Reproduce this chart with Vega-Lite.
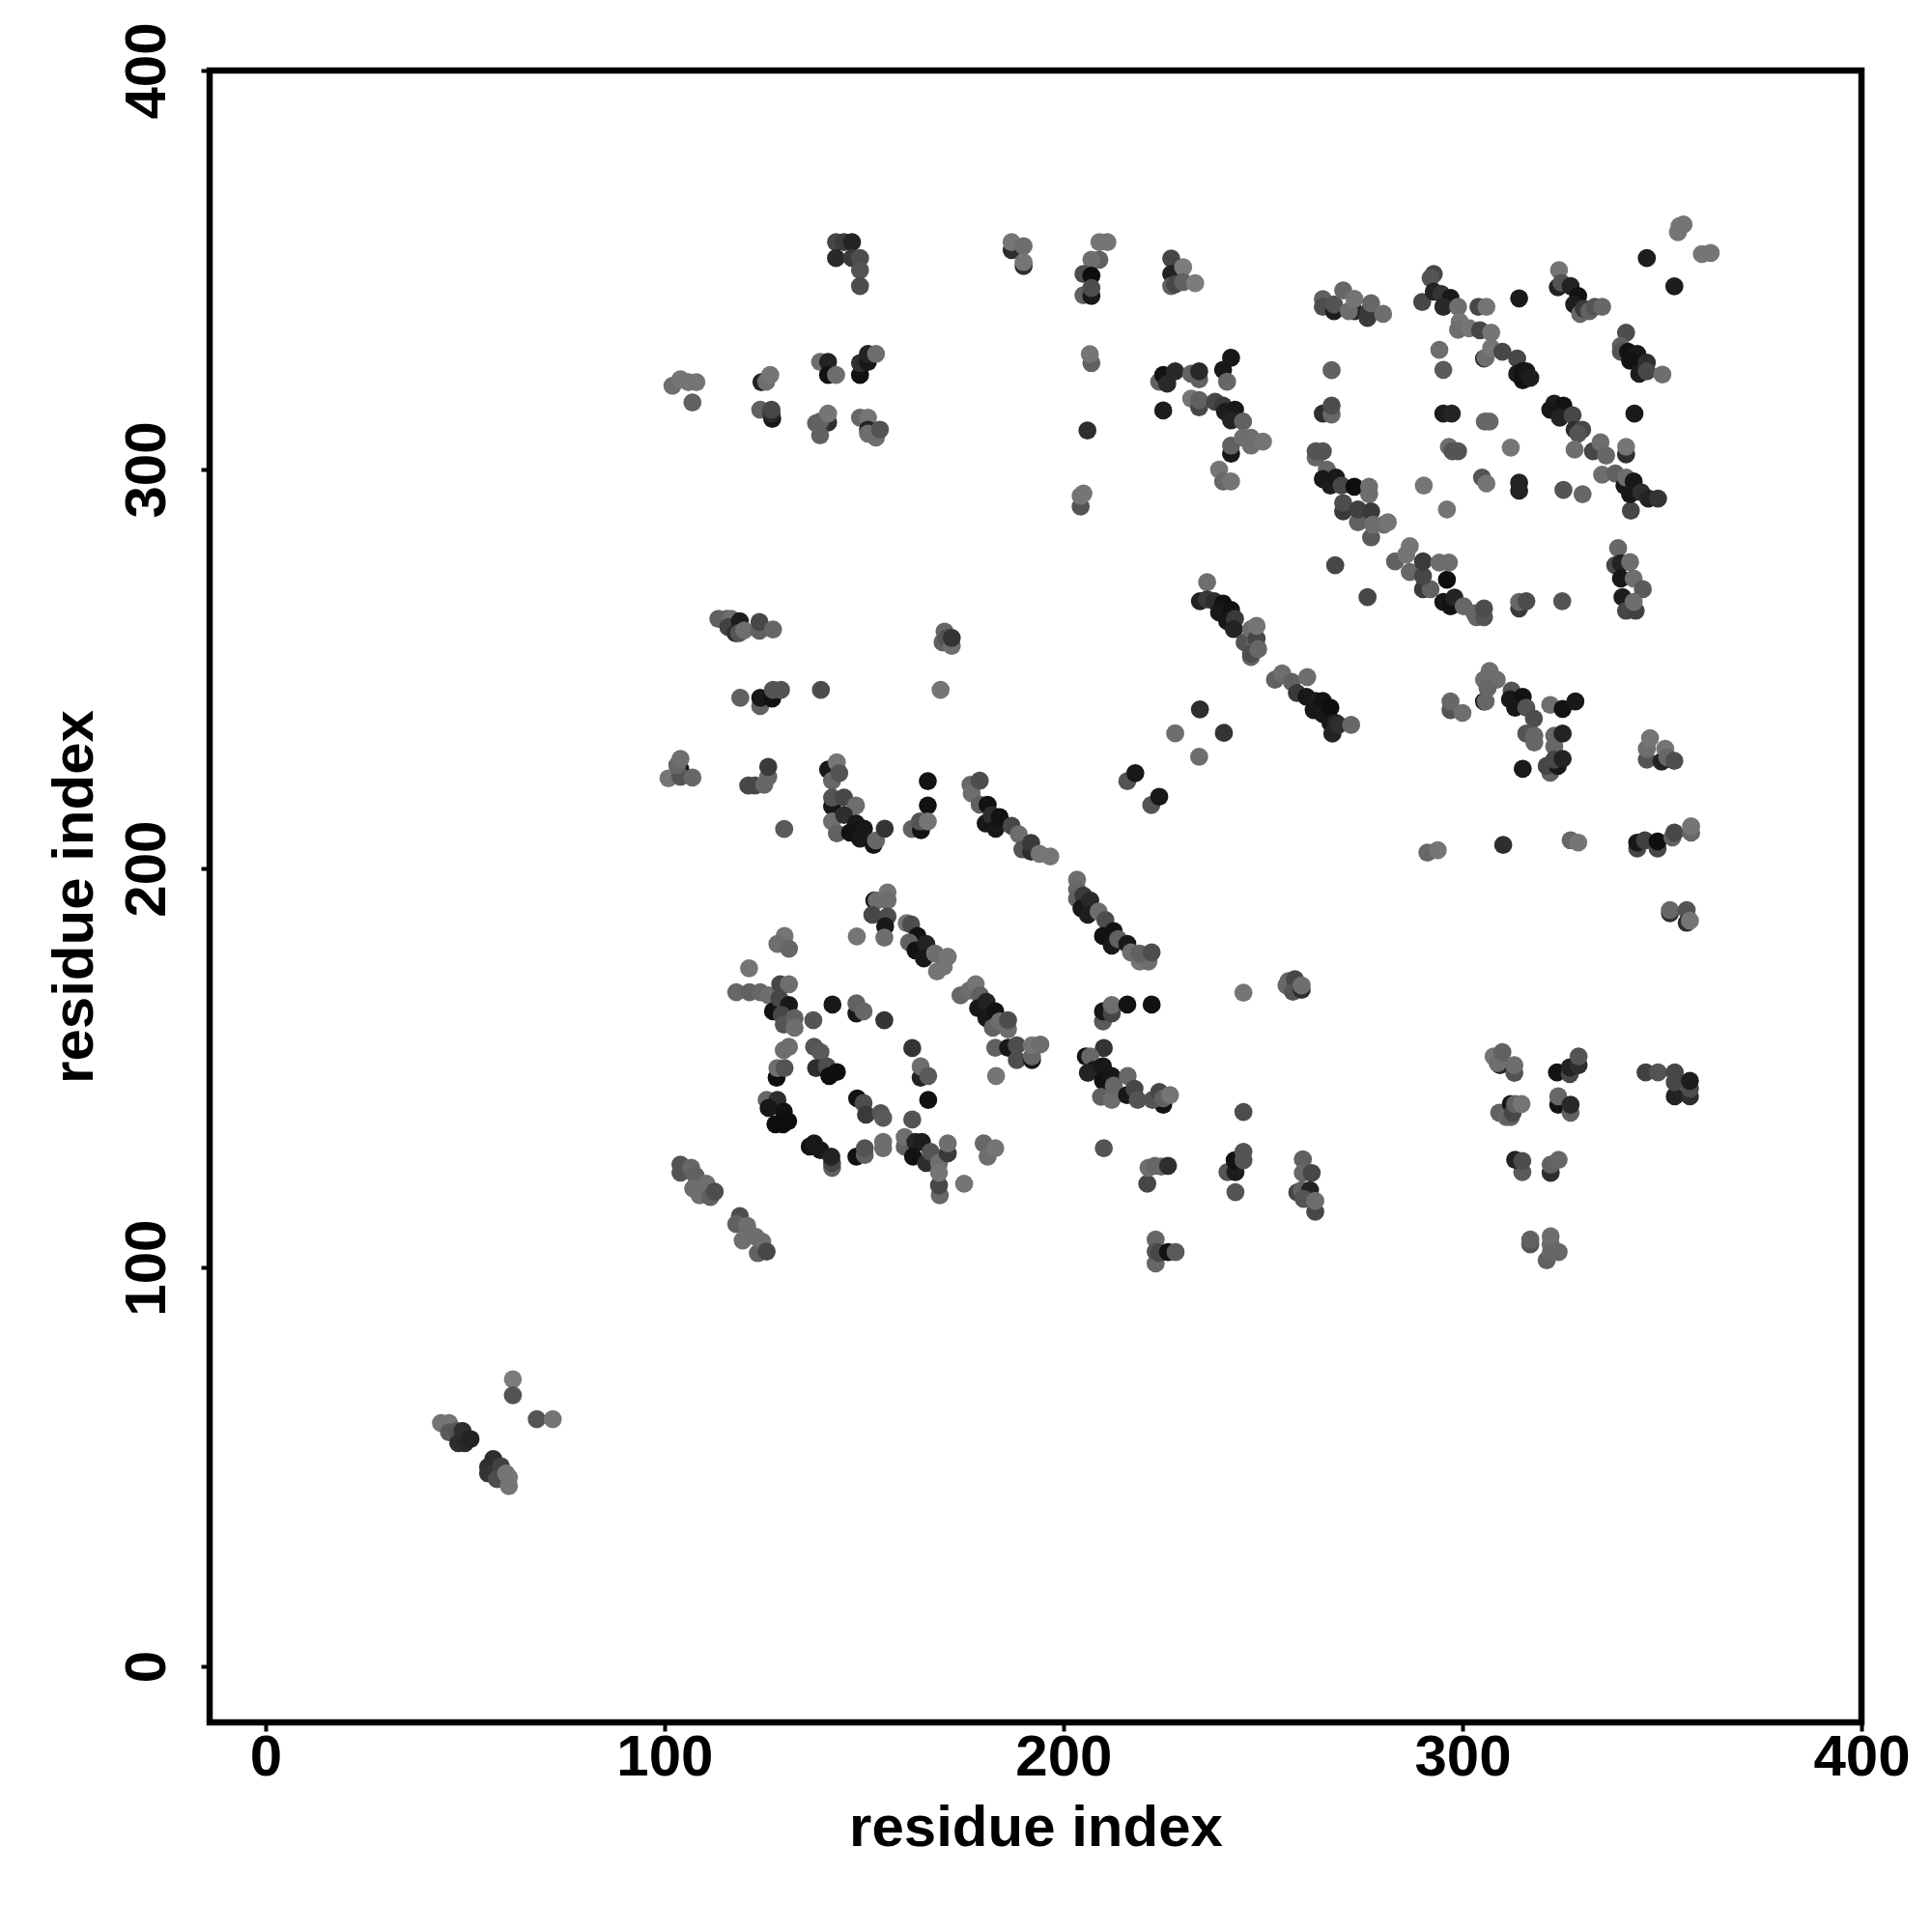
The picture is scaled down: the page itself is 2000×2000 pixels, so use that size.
{"$schema":"https://vega.github.io/schema/vega-lite/v6.json","autosize":{"type":"none"},"width":1710,"height":1710,"padding":{"left":217,"top":73,"right":73,"bottom":217},"background":"white","config":{"view":{"stroke":"black","strokeWidth":6.5},"font":"Liberation Sans","axis":{"grid":false,"domain":false,"ticks":true,"tickSize":9,"tickWidth":4,"tickColor":"black","labelFont":"Liberation Sans","labelFontWeight":"bold","labelFontSize":60,"labelColor":"black","titleFont":"Liberation Sans","titleFontWeight":"bold","titleFontSize":60,"titleColor":"black","labelOverlap":false,"labelBound":false,"labelFlush":false}},"data":{"values":[
{"i":143,"j":357,"v":0.5},{"i":145,"j":357,"v":0.4},{"i":147,"j":357,"v":0.2},{"i":143,"j":353,"v":0.25},{"i":147,"j":353,"v":0.4},{"i":149,"j":353,"v":0.55},{"i":149,"j":350,"v":0.6},{"i":149,"j":346,"v":0.55},
{"i":187,"j":355,"v":0.3},{"i":187,"j":357,"v":0.85},{"i":190,"j":351,"v":0.3},{"i":190,"j":356,"v":0.8},{"i":190,"j":352,"v":0.85},
{"i":209,"j":357,"v":0.85},{"i":211,"j":357,"v":0.85},{"i":209,"j":352.6,"v":0.7},{"i":207,"j":352.6,"v":0.8},{"i":205,"j":349,"v":0.55},{"i":207,"j":348.6,"v":0.02},{"i":205,"j":343.7,"v":0.7},{"i":207,"j":343.5,"v":0.1},{"i":207,"j":345.5,"v":0.55},
{"i":227,"j":352.9,"v":0.5},{"i":227,"j":349,"v":0.2},{"i":227,"j":346,"v":0.7},{"i":228,"j":346.4,"v":0.5},{"i":230,"j":350.7,"v":0.9},{"i":230,"j":347,"v":0.7},{"i":233,"j":346.7,"v":0.9},
{"i":102,"j":321,"v":0.8},{"i":104,"j":322.6,"v":0.85},{"i":106,"j":321.9,"v":0.85},{"i":108,"j":321.9,"v":0.85},{"i":107,"j":316.8,"v":0.7},
{"i":124.3,"j":321.9,"v":0.2},{"i":125.5,"j":322,"v":0.8},{"i":126.5,"j":323.7,"v":0.85},{"i":124,"j":315,"v":0.7},{"i":127,"j":312.7,"v":0.1},{"i":126.8,"j":314,"v":0.25},{"i":126.8,"j":315,"v":0.5},
{"i":139,"j":327,"v":0.8},{"i":141,"j":327,"v":0.2},{"i":141,"j":323.7,"v":0.05},{"i":143,"j":323.7,"v":0.8},{"i":149,"j":323.7,"v":0.05},{"i":149,"j":326.7,"v":0.3},{"i":151,"j":327,"v":0.1},{"i":151,"j":329,"v":0.2},{"i":153,"j":329,"v":0.8},
{"i":141,"j":311.8,"v":0.3},{"i":139,"j":308.6,"v":0.7},{"i":138,"j":311.6,"v":0.7},{"i":139,"j":312,"v":0.7},{"i":141,"j":314,"v":0.85},{"i":149,"j":313,"v":0.75},{"i":151,"j":313,"v":0.85},{"i":151,"j":310,"v":0.2},{"i":153,"j":308,"v":0.8},{"i":151,"j":309,"v":0.8},{"i":154,"j":310,"v":0.6},
{"i":207,"j":326.7,"v":0.7},{"i":206.6,"j":328.9,"v":0.85},{"i":206,"j":309.8,"v":0.3},{"i":204.3,"j":290.7,"v":0.6},{"i":204.3,"j":293.4,"v":0.85},{"i":205,"j":294,"v":0.85},
{"i":224,"j":322,"v":0.7},{"i":225,"j":323.7,"v":0.05},{"i":226,"j":321.5,"v":0.25},{"i":228,"j":324.6,"v":0.25},{"i":225,"j":314.8,"v":0.15},{"i":232,"j":324,"v":0.7},{"i":234,"j":322.6,"v":0.7},{"i":234,"j":324.6,"v":0.25},{"i":240,"j":325,"v":0.1},{"i":242,"j":328,"v":0.1},{"i":241,"j":322,"v":0.75},
{"i":232,"j":317.8,"v":0.85},{"i":234,"j":315.6,"v":0.5},{"i":234,"j":317.4,"v":0.7},{"i":238,"j":317,"v":0.5},{"i":240,"j":316,"v":0.4},{"i":240.5,"j":314.5,"v":0.15},{"i":243,"j":315,"v":0.1},{"i":242,"j":312.3,"v":0.2},{"i":245,"j":312,"v":0.7},{"i":242,"j":304,"v":0.1},{"i":242,"j":306,"v":0.7},{"i":245,"j":308,"v":0.8},{"i":247,"j":308,"v":0.8},{"i":247,"j":306,"v":0.8},{"i":250,"j":307,"v":0.85},{"i":239,"j":300,"v":0.85},{"i":240,"j":297,"v":0.75},{"i":242,"j":297,"v":0.85},
{"i":265,"j":342.7,"v":0.7},{"i":265,"j":340.8,"v":0.55},{"i":267.8,"j":339.7,"v":0.15},{"i":267.8,"j":341.4,"v":0.6},{"i":270.1,"j":344.9,"v":0.75},{"i":272.9,"j":339.7,"v":0.25},{"i":271.5,"j":339.7,"v":0.8},{"i":272.9,"j":342.8,"v":0.85},{"i":276.2,"j":338,"v":0.4},{"i":276.6,"j":339.7,"v":0.4},{"i":277.1,"j":341.7,"v":0.75},{"i":280.1,"j":339,"v":0.8},
{"i":267.2,"j":324.9,"v":0.7},{"i":265,"j":314,"v":0.3},{"i":267.2,"j":313.8,"v":0.75},{"i":267.2,"j":316,"v":0.55},
{"i":292.8,"j":349,"v":0.5},{"i":292,"j":348,"v":0.6},{"i":289.9,"j":342,"v":0.5},{"i":292.8,"j":344.6,"v":0.2},{"i":294.7,"j":344,"v":0.35},{"i":297,"j":343,"v":0.1},{"i":295.2,"j":340.8,"v":0.25},{"i":298.9,"j":340.8,"v":0.8},{"i":299.3,"j":337,"v":0.85},{"i":298.9,"j":335,"v":0.8},{"i":301.7,"j":335.4,"v":0.85},{"i":304.4,"j":334.9,"v":0.5},{"i":307.2,"j":334.3,"v":0.85},{"i":304,"j":340.8,"v":0.5},{"i":306,"j":340.8,"v":0.85},{"i":314.2,"j":342.9,"v":0.12},
{"i":305.4,"j":327.8,"v":0.3},{"i":305.8,"j":328,"v":0.8},{"i":307.2,"j":330.5,"v":0.85},{"i":310,"j":329.5,"v":0.5},{"i":313.7,"j":327.8,"v":0.5},{"i":313.7,"j":324,"v":0.15},{"i":315.1,"j":322.4,"v":0.05},{"i":315.1,"j":324.6,"v":0.05},{"i":316,"j":324.6,"v":0.1},{"i":317,"j":323,"v":0.15},{"i":294.2,"j":330,"v":0.8},{"i":295.2,"j":325,"v":0.65},
{"i":324.2,"j":350,"v":0.85},{"i":323.9,"j":345.7,"v":0.2},{"i":324.8,"j":346.8,"v":0.6},{"i":327.1,"j":346,"v":0.2},{"i":329,"j":343.5,"v":0.05},{"i":328,"j":341.4,"v":0.15},{"i":329.5,"j":339,"v":0.75},{"i":330.4,"j":340.3,"v":0.4},{"i":331.8,"j":339.7,"v":0.7},{"i":333.2,"j":340.8,"v":0.6},{"i":335,"j":340.8,"v":0.75},
{"i":346.2,"j":353,"v":0.15},{"i":353.1,"j":345.9,"v":0.15},{"i":354,"j":359.5,"v":0.85},{"i":354.4,"j":361,"v":0.85},{"i":355.4,"j":361.4,"v":0.85},{"i":360,"j":354,"v":0.85},{"i":362.2,"j":354.3,"v":0.85},
{"i":341,"j":334.3,"v":0.55},{"i":339.7,"j":331,"v":0.7},{"i":339.7,"j":329.5,"v":0.6},{"i":341.5,"j":329.5,"v":0.05},{"i":343.8,"j":329,"v":0.1},{"i":342,"j":327.3,"v":0.05},{"i":344.3,"j":324,"v":0.15},{"i":346.2,"j":326.8,"v":0.3},{"i":346.2,"j":324.6,"v":0.5},{"i":350.1,"j":323.8,"v":0.8},
{"i":323,"j":316.5,"v":0.15},{"i":325.3,"j":316,"v":0.05},{"i":322,"j":315,"v":0.1},{"i":324.4,"j":313,"v":0.2},{"i":327.6,"j":313.6,"v":0.5},{"i":328.1,"j":310,"v":0.3},{"i":330,"j":310,"v":0.5},{"i":329,"j":309,"v":0.6},{"i":328.1,"j":305,"v":0.8},{"i":332.7,"j":304.6,"v":0.5},{"i":334.6,"j":306.8,"v":0.8},{"i":336,"j":303.5,"v":0.75},{"i":335,"j":298.7,"v":0.8},{"i":338.3,"j":299,"v":0.7},{"i":340.6,"j":296,"v":0.1},{"i":341,"j":298,"v":0.8},{"i":342.9,"j":297,"v":0.1},{"i":342.2,"j":289.7,"v":0.5},{"i":342,"j":293.8,"v":0.1},{"i":344.8,"j":294.3,"v":0.3},{"i":346.6,"j":292.7,"v":0.2},{"i":349,"j":292.7,"v":0.35},
{"i":343.1,"j":314,"v":0.12},{"i":341,"j":303.8,"v":0.3},{"i":341,"j":305.7,"v":0.85},
{"i":339,"j":280.3,"v":0.75},{"i":338.3,"j":276,"v":0.5},{"i":339.7,"j":276.5,"v":0.2},{"i":342,"j":276.8,"v":0.8},{"i":339.7,"j":272.7,"v":0.1},{"i":342.9,"j":272.7,"v":0.8},{"i":345.2,"j":270,"v":0.65},{"i":340.1,"j":268,"v":0.15},{"i":341,"j":264.6,"v":0.5},{"i":343.4,"j":264.6,"v":0.45},{"i":342.9,"j":266.8,"v":0.8},
{"i":295.2,"j":314,"v":0.15},{"i":297.3,"j":314,"v":0.2},{"i":305.6,"j":312,"v":0.75},{"i":306.8,"j":312,"v":0.75},{"i":296.6,"j":305.7,"v":0.8},{"i":297.5,"j":304.6,"v":0.6},{"i":298.9,"j":304.6,"v":0.6},{"i":312.1,"j":305.5,"v":0.85},{"i":290.3,"j":296,"v":0.85},{"i":296.1,"j":290,"v":0.85},{"i":304.9,"j":298,"v":0.6},{"i":306,"j":296.5,"v":0.85},{"i":314.2,"j":296.7,"v":0.2},{"i":314.2,"j":294.7,"v":0.2},{"i":325.3,"j":294.9,"v":0.6},{"i":330.1,"j":293.8,"v":0.75},
{"i":263.2,"j":303,"v":0.75},{"i":263.2,"j":304.6,"v":0.6},{"i":265,"j":304.6,"v":0.6},{"i":266,"j":300,"v":0.75},{"i":265,"j":297.6,"v":0.1},{"i":266.9,"j":296,"v":0.15},{"i":268.3,"j":298,"v":0.1},{"i":269.7,"j":296,"v":0.5},{"i":272.9,"j":295.7,"v":0.02},{"i":276.6,"j":293.8,"v":0.8},{"i":276.6,"j":295.7,"v":0.8},{"i":270.1,"j":289.5,"v":0.4},{"i":270.1,"j":291.6,"v":0.55},{"i":273.8,"j":286.8,"v":0.7},{"i":273.8,"j":290,"v":0.45},{"i":277.1,"j":283,"v":0.65},{"i":277.1,"j":289.5,"v":0.4},{"i":277.6,"j":286.2,"v":0.8},{"i":280.3,"j":286.2,"v":0.8},{"i":281.3,"j":286.8,"v":0.85},
{"i":283.1,"j":277,"v":0.7},{"i":285.9,"j":278.7,"v":0.85},{"i":286.8,"j":280.8,"v":0.85},{"i":286.8,"j":274.3,"v":0.75},{"i":290.1,"j":270,"v":0.4},{"i":292,"j":270,"v":0.7},{"i":290.1,"j":273.3,"v":0.5},{"i":290.1,"j":277,"v":0.4},{"i":296.1,"j":272.4,"v":0.02},{"i":294.2,"j":276.7,"v":0.8},{"i":296.6,"j":276.7,"v":0.8},{"i":295.2,"j":266.8,"v":0.1},{"i":297,"j":265.7,"v":0.05},{"i":298,"j":267.9,"v":0.2},{"i":300.3,"j":265.7,"v":0.75},{"i":303,"j":264,"v":0.75},{"i":303.5,"j":263,"v":0.75},{"i":305.4,"j":263,"v":0.6},{"i":305.4,"j":265.2,"v":0.55},
{"i":314.2,"j":265.2,"v":0.4},{"i":314.2,"j":266.8,"v":0.75},{"i":316,"j":267,"v":0.55},{"i":325,"j":267,"v":0.6},{"i":268.1,"j":276,"v":0.5},{"i":276.2,"j":268,"v":0.5},
{"i":236,"j":271.8,"v":0.8},{"i":234.2,"j":267,"v":0.2},{"i":236,"j":267.5,"v":0.4},{"i":237.8,"j":267,"v":0.3},{"i":240,"j":266.4,"v":0.05},{"i":239,"j":264.2,"v":0.1},{"i":242,"j":264.8,"v":0.05},{"i":241,"j":262,"v":0.1},{"i":243,"j":262.6,"v":0.4},{"i":242.7,"j":260,"v":0.2},{"i":245.4,"j":256.7,"v":0.6},{"i":247,"j":253,"v":0.75},{"i":247,"j":260,"v":0.8},{"i":248,"j":256.7,"v":0.7},{"i":247,"j":253.8,"v":0.55},{"i":248.4,"j":257.6,"v":0.5},{"i":248.8,"j":255,"v":0.75},{"i":248.4,"j":260.8,"v":0.85},
{"i":253,"j":247.3,"v":0.7},{"i":254.8,"j":248.9,"v":0.8},{"i":257.2,"j":246.8,"v":0.7},{"i":261.1,"j":248,"v":0.8},{"i":258.5,"j":244,"v":0.4},{"i":260.9,"j":243,"v":0.1},{"i":263.2,"j":242,"v":0.15},{"i":262.7,"j":239.7,"v":0.1},{"i":265,"j":242,"v":0.05},{"i":265,"j":238.7,"v":0.1},{"i":266.9,"j":240.3,"v":0.02},{"i":266.9,"j":236.5,"v":0.1},{"i":267.4,"j":233.8,"v":0.2},{"i":268.3,"j":236.5,"v":0.2},{"i":268.9,"j":236,"v":0.3},{"i":272.1,"j":236,"v":0.75},
{"i":240.2,"j":234,"v":0.35},{"i":234.2,"j":239.9,"v":0.3},{"i":228,"j":233.9,"v":0.8},{"i":234,"j":228,"v":0.8},
{"i":297,"j":239.7,"v":0.6},{"i":297,"j":241.9,"v":0.75},{"i":300,"j":239,"v":0.8},{"i":305.4,"j":241.9,"v":0.05},{"i":305.8,"j":241.9,"v":0.75},{"i":306.8,"j":249.5,"v":0.8},{"i":305.4,"j":247.3,"v":0.8},{"i":308.6,"j":247.3,"v":0.8},{"i":306.3,"j":245.2,"v":0.75},{"i":312.3,"j":244.6,"v":0.6},{"i":311.9,"j":242.4,"v":0.1},{"i":315.1,"j":243,"v":0.05},{"i":313.2,"j":240.3,"v":0.1},{"i":316,"j":240.3,"v":0.6},{"i":317.9,"j":237.6,"v":0.55},{"i":316,"j":233.8,"v":0.6},{"i":318,"j":231.6,"v":0.75},{"i":318,"j":233.3,"v":0.75},{"i":322,"j":241,"v":0.8},{"i":325.1,"j":240,"v":0.05},{"i":328.3,"j":241.9,"v":0.1},{"i":315.1,"j":225,"v":0.12},
{"i":323,"j":230.6,"v":0.75},{"i":323,"j":233.3,"v":0.75},{"i":325.1,"j":233.8,"v":0.2},{"i":322,"j":224,"v":0.7},{"i":321.1,"j":225.7,"v":0.5},{"i":323.9,"j":225.7,"v":0.1},{"i":323,"j":227.3,"v":0.5},{"i":325.1,"j":227.5,"v":0.2},
{"i":346.2,"j":227.3,"v":0.6},{"i":346.2,"j":230,"v":0.8},{"i":347,"j":232.7,"v":0.85},{"i":349.9,"j":226.8,"v":0.2},{"i":350.8,"j":230,"v":0.85},{"i":351.3,"j":227.9,"v":0.75},{"i":353.1,"j":227,"v":0.55},
{"i":291.2,"j":204,"v":0.75},{"i":293.8,"j":204.6,"v":0.85},{"i":310.2,"j":205.9,"v":0.3},{"i":327.1,"j":207.1,"v":0.75},{"i":329,"j":206.5,"v":0.85},{"i":343.8,"j":205,"v":0.5},{"i":343.8,"j":206.5,"v":0.1},{"i":345.7,"j":207.1,"v":0.45},{"i":348.9,"j":205,"v":0.5},{"i":348.9,"j":206.8,"v":0.02},{"i":352.6,"j":207.8,"v":0.7},{"i":353.1,"j":209,"v":0.5},{"i":357.3,"j":209,"v":0.75},{"i":357.3,"j":210.6,"v":0.85},
{"i":352,"j":188.8,"v":0.3},{"i":352,"j":189.6,"v":0.75},{"i":356.2,"j":189.6,"v":0.6},{"i":356.2,"j":186.4,"v":0.3},{"i":357,"j":186.9,"v":0.85},
{"i":307.8,"j":152.9,"v":0.85},{"i":309.4,"j":150.7,"v":0.2},{"i":308.8,"j":151.2,"v":0.8},{"i":310,"j":154,"v":0.7},{"i":313,"j":148.8,"v":0.6},{"i":313,"j":150.7,"v":0.8},{"i":323.7,"j":148.9,"v":0.05},{"i":326.9,"j":148.5,"v":0.5},{"i":326.9,"j":150.2,"v":0.2},{"i":329.1,"j":150.7,"v":0.3},{"i":329.1,"j":152.9,"v":0.6},
{"i":345.9,"j":148.9,"v":0.45},{"i":349,"j":148.9,"v":0.6},{"i":353.2,"j":142.9,"v":0.2},{"i":353.2,"j":146.4,"v":0.5},{"i":353.2,"j":148.9,"v":0.5},{"i":357,"j":142.9,"v":0.3},{"i":357,"j":144.8,"v":0.55},{"i":357,"j":146.8,"v":0.15},
{"i":309.2,"j":138.8,"v":0.7},{"i":311,"j":137.7,"v":0.75},{"i":312.1,"j":141,"v":0.1},{"i":312.1,"j":137.7,"v":0.7},{"i":312.6,"j":138.8,"v":0.5},{"i":313.2,"j":141,"v":0.7},{"i":314.8,"j":141,"v":0.85},{"i":324,"j":140.8,"v":0.05},{"i":324,"j":142.9,"v":0.75},{"i":327.1,"j":138.8,"v":0.7},{"i":327.1,"j":140.8,"v":0.25},
{"i":315,"j":123.9,"v":0.65},{"i":313.2,"j":127,"v":0.2},{"i":315,"j":126.7,"v":0.55},{"i":322.1,"j":123.7,"v":0.3},{"i":322.1,"j":125.8,"v":0.7},{"i":324.1,"j":127,"v":0.75},
{"i":317,"j":105.8,"v":0.6},{"i":317,"j":107,"v":0.7},{"i":321.1,"j":101.8,"v":0.7},{"i":322.1,"j":105.8,"v":0.8},{"i":322.1,"j":107.8,"v":0.8},{"i":322.1,"j":103.7,"v":0.75},{"i":324.1,"j":103.9,"v":0.75},
{"i":245.1,"j":139,"v":0.55},{"i":241.1,"j":123.9,"v":0.6},{"i":243.1,"j":123.9,"v":0.15},{"i":242.9,"j":126.9,"v":0.05},{"i":245.1,"j":126.9,"v":0.6},{"i":245.1,"j":129,"v":0.6},{"i":243.1,"j":118.9,"v":0.6},
{"i":260,"j":127.1,"v":0.7},{"i":260,"j":123.7,"v":0.75},{"i":262.2,"j":123.7,"v":0.5},{"i":258.6,"j":118.8,"v":0.5},{"i":259.7,"j":119.4,"v":0.7},{"i":261.8,"j":119.4,"v":0.2},{"i":263.1,"j":114,"v":0.5},{"i":260.2,"j":117.2,"v":0.6},{"i":263.1,"j":116.7,"v":0.8},
{"i":245.1,"j":168.9,"v":0.85},{"i":256.4,"j":171.8,"v":0.75},{"i":255.9,"j":170.7,"v":0.75},{"i":258,"j":172.3,"v":0.5},{"i":257.5,"j":169.1,"v":0.6},{"i":259.7,"j":169.6,"v":0.3},{"i":259.7,"j":170.7,"v":0.8},
{"i":221,"j":121,"v":0.5},{"i":221.3,"j":125,"v":0.8},{"i":222.9,"j":125.5,"v":0.75},{"i":224.5,"j":125.3,"v":0.75},{"i":226.2,"j":125.5,"v":0.3},
{"i":223.1,"j":101,"v":0.75},{"i":223.1,"j":107,"v":0.75},{"i":223.1,"j":104,"v":0.6},{"i":224,"j":103.7,"v":0.5},{"i":226.2,"j":103.9,"v":0.05},{"i":228.1,"j":103.9,"v":0.65},
{"i":203.4,"j":197.2,"v":0.8},{"i":203.4,"j":194.8,"v":0.75},{"i":203.4,"j":192.4,"v":0.7},{"i":205,"j":193.2,"v":0.4},{"i":204.5,"j":190,"v":0.1},{"i":206.7,"j":192,"v":0.25},{"i":206.1,"j":188.4,"v":0.15},{"i":208.8,"j":189.2,"v":0.8},{"i":210.5,"j":187.1,"v":0.55},{"i":209.9,"j":183.1,"v":0.05},{"i":212.6,"j":184.3,"v":0.05},{"i":212.1,"j":180.7,"v":0.1},{"i":213.7,"j":182.3,"v":0.7},{"i":216,"j":181.1,"v":0.1},{"i":216.9,"j":179,"v":0.8},{"i":219.1,"j":176.7,"v":0.85},{"i":221.3,"j":176.7,"v":0.8},{"i":219.1,"j":178.7,"v":0.7},{"i":222.1,"j":179,"v":0.55},
{"i":152.6,"j":192,"v":0.1},{"i":153.2,"j":192,"v":0.8},{"i":155.9,"j":194,"v":0.85},{"i":155.9,"j":192,"v":0.8},{"i":152.1,"j":188.4,"v":0.5},{"i":155.9,"j":188,"v":0.55},{"i":155.3,"j":185.5,"v":0.1},{"i":155.1,"j":182.7,"v":0.8},{"i":148.2,"j":183,"v":0.85},
{"i":160.7,"j":186.3,"v":0.85},{"i":161.8,"j":186,"v":0.55},{"i":163.4,"j":183.1,"v":0.05},{"i":161.3,"j":181.5,"v":0.7},{"i":162.9,"j":179.5,"v":0.05},{"i":165.6,"j":181.1,"v":0.2},{"i":165,"j":177.5,"v":0.1},{"i":168.3,"j":174.2,"v":0.85},{"i":170,"j":175.4,"v":0.85},{"i":167.8,"j":178.7,"v":0.8},{"i":171,"j":177.9,"v":0.85},
{"i":174.2,"j":168.2,"v":0.75},{"i":176.4,"j":169.4,"v":0.8},{"i":178,"j":171,"v":0.85},{"i":179.1,"j":168.2,"v":0.7},{"i":178.6,"j":165,"v":0.1},{"i":180.7,"j":166.6,"v":0.2},{"i":180.7,"j":162.5,"v":0.1},{"i":182.9,"j":164.2,"v":0.05},{"i":182.3,"j":160.1,"v":0.7},{"i":186.1,"j":159.7,"v":0.8},{"i":184,"j":161.7,"v":0.8},{"i":186.1,"j":162,"v":0.55},
{"i":183.1,"j":148,"v":0.85},{"i":182.9,"j":155.1,"v":0.7},{"i":186.1,"j":155.1,"v":0.1},{"i":188.3,"j":152,"v":0.55},{"i":192.1,"j":152,"v":0.1},{"i":192.1,"j":152.9,"v":0.75},{"i":188.3,"j":155.7,"v":0.55},{"i":192.1,"j":155.7,"v":0.85},{"i":194.2,"j":155.9,"v":0.8},
{"i":209.9,"j":161.7,"v":0.65},{"i":209.9,"j":164.2,"v":0.1},{"i":212.1,"j":163.7,"v":0.5},{"i":212.1,"j":165.8,"v":0.8},{"i":216,"j":165.9,"v":0.05},{"i":222.1,"j":165.9,"v":0.05},
{"i":210.1,"j":155,"v":0.35},{"i":205.6,"j":152.9,"v":0.05},{"i":206.7,"j":152.9,"v":0.75},{"i":207.7,"j":149.6,"v":0.1},{"i":206.1,"j":148.8,"v":0.2},{"i":209.9,"j":150.4,"v":0.1},{"i":209.9,"j":146.8,"v":0.05},{"i":212.1,"j":148,"v":0.1},{"i":209.4,"j":142.8,"v":0.7},{"i":212.1,"j":142,"v":0.8},{"i":212.6,"j":145.6,"v":0.75},{"i":216.1,"j":148,"v":0.75},{"i":215.9,"j":143.2,"v":0.1},{"i":217.8,"j":144.8,"v":0.5},{"i":218.6,"j":142,"v":0.6},{"i":225,"j":140.8,"v":0.05},{"i":222.3,"j":142,"v":0.6},{"i":224,"j":144,"v":0.5},{"i":225,"j":142.4,"v":0.7},{"i":226.7,"j":143.2,"v":0.85},{"i":210.1,"j":129.9,"v":0.6},
{"i":130.1,"j":183.1,"v":0.85},{"i":128.3,"j":181.1,"v":0.8},{"i":131.2,"j":179.9,"v":0.75},{"i":121.2,"j":175,"v":0.85},{"i":118,"j":169,"v":0.75},{"i":121.3,"j":169,"v":0.7},{"i":124,"j":169,"v":0.75},{"i":126.1,"j":168.2,"v":0.8},{"i":129,"j":171,"v":0.5},{"i":131.2,"j":171,"v":0.8},{"i":127.2,"j":164.2,"v":0.05},{"i":128.8,"j":167.4,"v":0.5},{"i":131.2,"j":165.8,"v":0.1},{"i":129.4,"j":163.3,"v":0.5},{"i":129.9,"j":160.9,"v":0.6},{"i":132.6,"j":162.5,"v":0.7},{"i":132.6,"j":160.1,"v":0.8},{"i":137.3,"j":162,"v":0.6},{"i":142.1,"j":165.9,"v":0.1},{"i":148.1,"j":163.7,"v":0.1},{"i":148.1,"j":166.2,"v":0.7},{"i":149.9,"j":164.2,"v":0.75},{"i":155.1,"j":162,"v":0.35},
{"i":129.9,"j":154.5,"v":0.8},{"i":131.2,"j":155.3,"v":0.8},{"i":128.1,"j":147.6,"v":0.02},{"i":128.3,"j":150,"v":0.8},{"i":130.1,"j":150,"v":0.6},{"i":137.5,"j":155.3,"v":0.6},{"i":139.1,"j":154,"v":0.65},{"i":138,"j":150,"v":0.3},{"i":140.7,"j":150.4,"v":0.55},{"i":141.3,"j":148,"v":0.02},{"i":143.2,"j":149,"v":0.02},
{"i":162.1,"j":155,"v":0.35},{"i":164.2,"j":147.6,"v":0.2},{"i":164.2,"j":150.4,"v":0.8},{"i":166.1,"j":148,"v":0.65},{"i":166.1,"j":142,"v":0.05},
{"i":125.6,"j":142,"v":0.75},{"i":128.3,"j":142,"v":0.3},{"i":126.1,"j":140,"v":0.1},{"i":129.9,"j":139.1,"v":0.05},{"i":127.8,"j":135.9,"v":0.02},{"i":129.7,"j":135.9,"v":0.02},{"i":131,"j":136.7,"v":0.02},
{"i":148.3,"j":142.4,"v":0.05},{"i":149.9,"j":141.2,"v":0.55},{"i":150.5,"j":138.3,"v":0.4},{"i":154.2,"j":138.7,"v":0.6},{"i":154.8,"j":137.5,"v":0.65},{"i":162.1,"j":137.1,"v":0.6},
{"i":136.4,"j":130.3,"v":0.05},{"i":137.5,"j":131.1,"v":0.1},{"i":139.1,"j":129.4,"v":0.1},{"i":142,"j":125,"v":0.7},{"i":142,"j":126.2,"v":0.5},{"i":141.8,"j":127.8,"v":0.2},{"i":148.1,"j":127.8,"v":0.05},{"i":150.2,"j":128.2,"v":0.7},{"i":150.2,"j":129.9,"v":0.6},{"i":154.8,"j":129.9,"v":0.8},{"i":154.8,"j":131.5,"v":0.8},{"i":160.2,"j":130.3,"v":0.7},{"i":160.2,"j":132.7,"v":0.8},{"i":162.9,"j":131.5,"v":0.2},{"i":164.5,"j":131.5,"v":0.15},{"i":162.3,"j":127.8,"v":0.05},{"i":165.6,"j":126.2,"v":0.3},{"i":166.7,"j":129,"v":0.6},{"i":168.8,"j":126.2,"v":0.8},{"i":171,"j":128.6,"v":0.4},{"i":171,"j":131.1,"v":0.8},{"i":169,"j":118.1,"v":0.75},{"i":168.8,"j":120.6,"v":0.5},{"i":168.8,"j":123.8,"v":0.85},{"i":175.1,"j":121,"v":0.85},{"i":180,"j":131.1,"v":0.75},{"i":181,"j":127.8,"v":0.8},{"i":182.9,"j":129.9,"v":0.85},
{"i":104,"j":125.8,"v":0.6},{"i":104,"j":123.8,"v":0.6},{"i":106.7,"j":125,"v":0.75},{"i":107.8,"j":123,"v":0.7},{"i":107.2,"j":119.8,"v":0.8},{"i":108.8,"j":118.1,"v":0.8},{"i":110.5,"j":121,"v":0.8},{"i":111.5,"j":117.7,"v":0.7},{"i":112.6,"j":119,"v":0.55},
{"i":118.9,"j":112.9,"v":0.55},{"i":118,"j":110.9,"v":0.7},{"i":120.7,"j":110.5,"v":0.8},{"i":119.6,"j":106.8,"v":0.8},{"i":122.9,"j":107.7,"v":0.8},{"i":123.4,"j":103.6,"v":0.7},{"i":124.5,"j":106.5,"v":0.8},{"i":125.6,"j":104,"v":0.5},
{"i":113.5,"j":262.6,"v":0.7},{"i":115.7,"j":262.6,"v":0.7},{"i":116.7,"j":262.6,"v":0.8},{"i":116,"j":260.5,"v":0.45},{"i":117.8,"j":259,"v":0.3},{"i":118.9,"j":262,"v":0.15},{"i":118.7,"j":259,"v":0.6},{"i":120,"j":259.7,"v":0.8},{"i":123.8,"j":259.6,"v":0.7},{"i":123.8,"j":261.8,"v":0.5},{"i":127.2,"j":259.9,"v":0.75},
{"i":169.7,"j":256.7,"v":0.7},{"i":170.2,"j":259.4,"v":0.75},{"i":170.8,"j":257.8,"v":0.6},{"i":172,"j":255.8,"v":0.8},{"i":172,"j":257.8,"v":0.35},{"i":169.2,"j":244.8,"v":0.85},
{"i":119,"j":242.8,"v":0.7},{"i":124,"j":240.7,"v":0.7},{"i":124,"j":242.8,"v":0.1},{"i":127,"j":242.6,"v":0.05},{"i":127.2,"j":244.8,"v":0.6},{"i":129.2,"j":244.8,"v":0.6},{"i":139.2,"j":244.8,"v":0.55},
{"i":101,"j":222.6,"v":0.85},{"i":104,"j":224.8,"v":0.1},{"i":104,"j":223,"v":0.6},{"i":103.2,"j":225.9,"v":0.75},{"i":104,"j":227.5,"v":0.8},{"i":107,"j":222.8,"v":0.75},
{"i":121,"j":220.8,"v":0.5},{"i":122.7,"j":220.8,"v":0.5},{"i":125,"j":221,"v":0.75},{"i":126,"j":223,"v":0.75},{"i":126,"j":225.5,"v":0.4},{"i":130,"j":209.9,"v":0.65},
{"i":141,"j":224.8,"v":0.1},{"i":143.2,"j":226.6,"v":0.85},{"i":142,"j":222,"v":0.75},{"i":143.8,"j":223.9,"v":0.6},{"i":142,"j":215.6,"v":0.1},{"i":142,"j":217.8,"v":0.6},{"i":145,"j":217.8,"v":0.5},{"i":148,"j":215.8,"v":0.8},{"i":142,"j":211.8,"v":0.8},{"i":143.2,"j":208.8,"v":0.7},{"i":145,"j":213.4,"v":0.3},{"i":148,"j":211.3,"v":0.1},{"i":146.5,"j":209,"v":0.05},{"i":150,"j":210,"v":0.1},{"i":149,"j":207.5,"v":0.1},{"i":152.4,"j":205.9,"v":0.05},{"i":153,"j":207,"v":0.75},{"i":155.2,"j":210,"v":0.35},
{"i":166,"j":221.9,"v":0.05},{"i":166,"j":215.8,"v":0.05},{"i":162,"j":209.9,"v":0.7},{"i":164.3,"j":209.6,"v":0.05},{"i":164,"j":211.8,"v":0.6},{"i":166,"j":211.8,"v":0.85},
{"i":176.7,"j":221,"v":0.75},{"i":177,"j":218.8,"v":0.8},{"i":179,"j":222,"v":0.55},{"i":179,"j":216,"v":0.7},{"i":181,"j":216,"v":0.05},{"i":180.5,"j":211.3,"v":0.1},{"i":182,"j":213.4,"v":0.3},{"i":183,"j":210,"v":0.1},{"i":184,"j":212.9,"v":0.05},{"i":187,"j":210.7,"v":0.5},{"i":188.8,"j":208.6,"v":0.8},{"i":189.7,"j":204.8,"v":0.6},{"i":191.9,"j":204.2,"v":0.3},{"i":191.9,"j":206.4,"v":0.4},{"i":194,"j":203.7,"v":0.85},{"i":196.7,"j":203,"v":0.85},
{"i":216,"j":221.9,"v":0.6},{"i":218,"j":223.9,"v":0.1},{"i":222,"j":215.9,"v":0.6},{"i":224,"j":218,"v":0.1},
{"i":44,"j":61,"v":0.85},{"i":46,"j":61,"v":0.85},{"i":46,"j":58.7,"v":0.65},{"i":48,"j":59,"v":0.6},{"i":48.3,"j":56,"v":0.3},{"i":50,"j":56,"v":0.25},{"i":49.4,"j":59,"v":0.3},{"i":51.4,"j":57,"v":0.2},
{"i":57.1,"j":52,"v":0.3},{"i":55.8,"j":50,"v":0.3},{"i":55.8,"j":48.4,"v":0.35},{"i":59,"j":50.2,"v":0.45},{"i":58,"j":47,"v":0.55},{"i":60.3,"j":48.4,"v":0.85},{"i":61,"j":45.2,"v":0.85},{"i":61,"j":47.4,"v":0.85},
{"i":62,"j":72,"v":0.9},{"i":62,"j":68,"v":0.6},{"i":68,"j":62,"v":0.6},{"i":72,"j":62,"v":0.85}
]},"mark":{"type":"point","shape":"circle","filled":true,"opacity":1,"size":350,"clip":false},"encoding":{"x":{"field":"i","type":"quantitative","scale":{"domain":[-14,400],"nice":false,"zero":false},"axis":{"values":[0,100,200,300,400],"title":"residue index","labelPadding":-2,"titlePadding":14}},"y":{"field":"j","type":"quantitative","scale":{"domain":[-14,400],"nice":false,"zero":false},"axis":{"values":[0,100,200,300,400],"title":"residue index","labelAngle":-90,"labelAlign":"center","labelBaseline":"alphabetic","labelPadding":38,"titlePadding":14}},"color":{"field":"v","type":"quantitative","legend":null,"scale":{"domain":[0,1],"range":["#0a0a0a","#8a8a8a"]}}}}
